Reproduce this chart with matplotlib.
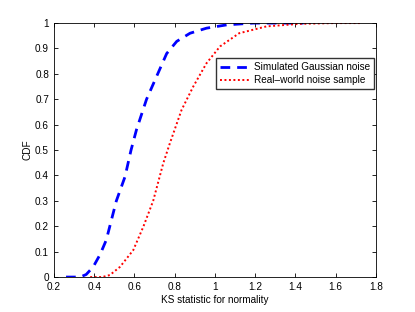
import numpy as np
import matplotlib
matplotlib.use('Agg')
import matplotlib.pyplot as plt

# Datos
gauss_x = [0.26, 0.33, 0.36, 0.395, 0.43, 0.46, 0.51, 0.553, 0.583, 0.61, 0.66, 0.71,
           0.76, 0.81, 0.876, 0.958, 1.058, 1.19, 1.44]
gauss_y = [0.0, 0.0, 0.01, 0.04, 0.09, 0.146, 0.30, 0.395, 0.50, 0.58, 0.70, 0.79,
           0.88, 0.928, 0.96, 0.98, 0.993, 1.0, 1.0]

real_x = [0.38, 0.44, 0.478, 0.528, 0.594, 0.644, 0.693, 0.743, 0.776, 0.834, 0.892,
          0.958, 1.025, 1.12, 1.256, 1.42, 1.59, 1.72]
real_y = [0.0, 0.0, 0.008, 0.04, 0.106, 0.198, 0.30, 0.448, 0.527, 0.658, 0.75,
          0.842, 0.908, 0.96, 0.987, 0.997, 1.0, 1.0]

xticks = [0.2, 0.4, 0.6, 0.8, 1.0, 1.2, 1.4, 1.6, 1.8]
xlabels = ['0.2', '0.4', '0.6', '0.8', '1', '1.2', '1.4', '1.6', '1.8']
yticks = [0, 0.1, 0.2, 0.3, 0.4, 0.5, 0.6, 0.7, 0.8, 0.9, 1]
ylabels = ['0', '0.1', '0.2', '0.3', '0.4', '0.5', '0.6', '0.7', '0.8', '0.9', '1']

plt.rcParams['font.family'] = ['Liberation Sans', 'DejaVu Sans']

fig = plt.figure(figsize=(4.15, 3.12), dpi=100)
ax = fig.add_axes([0.130, 0.112, 0.776, 0.814])

ax.plot(gauss_x, gauss_y, color='#0000ff', linestyle=(0, (3.5, 2.5)), linewidth=2,
        label='Simulated Gaussian noise')
ax.plot(real_x, real_y, color='#ff0000', linestyle=(0, (1, 1.3)), linewidth=1.4,
        label='Real\u2013world noise sample')

ax.set_xlim(0.2, 1.8)
ax.set_ylim(0, 1)
ax.set_xticks(xticks)
ax.set_xticklabels(xlabels)
ax.set_yticks(yticks)
ax.set_yticklabels(ylabels)
ax.tick_params(direction='in', top=True, right=True, labelsize=7.2, length=3, width=0.6)
for s in ax.spines.values():
    s.set_linewidth(0.6)

ax.set_xlabel('KS statistic for normality', fontsize=7.2, labelpad=2)
ax.set_ylabel('CDF', fontsize=7.2, labelpad=2)

leg = ax.legend(loc='upper right', bbox_to_anchor=(0.994, 0.862), fontsize=7.2,
                fancybox=False, framealpha=1, edgecolor='#333333',
                handlelength=3.0, borderpad=0.4, labelspacing=0.3, handletextpad=0.4,
                borderaxespad=0)
leg.get_frame().set_linewidth(1.0)

fig.savefig('out.png', dpi=100)
